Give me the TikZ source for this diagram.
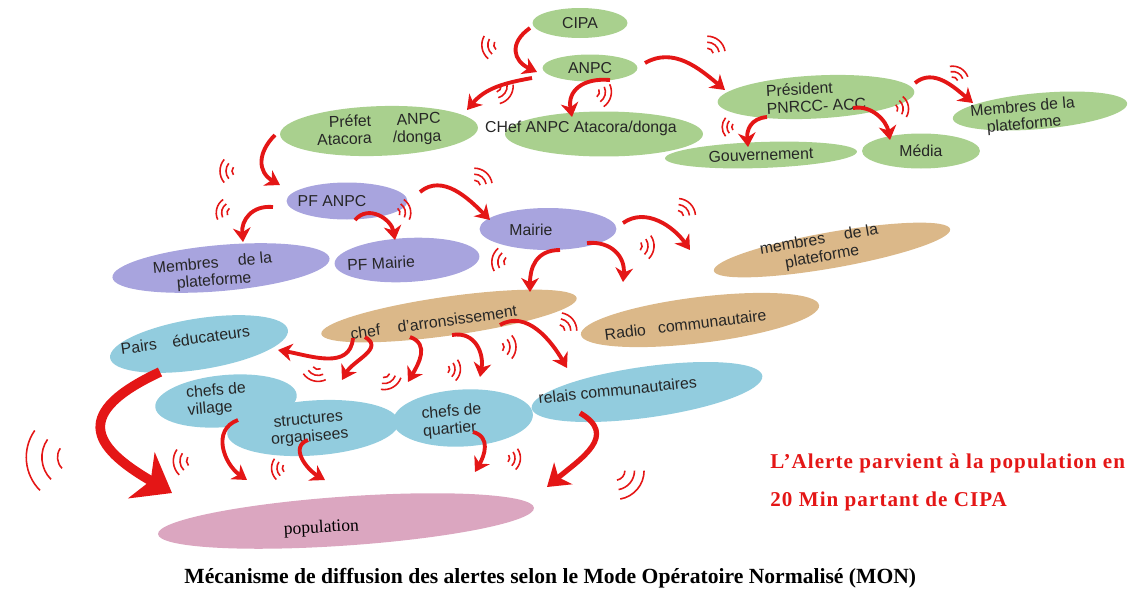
\documentclass[tikz,border=0pt]{standalone}
\usepackage{fontspec}
\setmainfont{Liberation Serif}
\setsansfont{Liberation Sans}
\usetikzlibrary{shapes.geometric,arrows.meta}

\definecolor{vertF}{RGB}{169,208,142}
\definecolor{mauveF}{RGB}{168,164,222}
\definecolor{beigeF}{RGB}{219,184,137}
\definecolor{bleuF}{RGB}{146,204,222}
\definecolor{roseF}{RGB}{219,166,192}
\definecolor{rougeF}{RGB}{228,22,22}

\tikzset{
  bulle/.style={ellipse, inner sep=0pt, text=black!85, align=center,
    font=\sffamily\fontsize{9}{10}\selectfont},
  taille/.style 2 args={minimum width=#1*0.2mm, minimum height=#2*0.2mm},
  txt/.style={fill=none, draw=none},
  fleche/.style={draw=rougeF, line width=2.2pt,
    -{Stealth[length=8pt,width=10pt,inset=2.5pt]}},
  forte/.style={fleche, line width=3pt,
    -{Stealth[length=12pt,width=16pt,inset=3.5pt]}},
  grosse/.style={fleche, line width=5.5pt,
    -{Stealth[length=20pt,width=30pt,inset=6pt]}},
  onde/.style={draw=rougeF, line width=0.9pt},
  ondes/.pic={
    \foreach \r in {6,12,18}
      \draw[onde] (-12,0) ++(-40:\r) arc[start angle=-40, end angle=40, radius=\r];
  },
  alerte/.style={text=rougeF, inner sep=0pt,
    font=\rmfamily\bfseries\fontsize{12}{14}\selectfont\addfontfeature{LetterSpace=5}},
  legende/.style={inner sep=0pt, font=\rmfamily\bfseries\fontsize{12.3}{14}\selectfont}
}

\begin{document}
\begin{tikzpicture}[x=0.02cm, y=0.02cm]
\useasboundingbox (0,0) rectangle (1134,-589);

 % niveau national
 \begin{scope}[every node/.style={bulle, fill=vertF}]
  \node[taille={95}{30}] (cipa) at (580,-23) {CIPA};
  \node[taille={95}{27}] (anpc) at (590,-68) {ANPC};
  \node[taille={198}{43}, rotate=2] (prefet) at (379,-131)
    {\begin{tabular}{@{}r@{\hspace{12pt}}r@{}}Préfet & ANPC\\Atacora & /donga\end{tabular}};
  \node[taille={198}{45}, label={[txt, shift={(-23,6)}]center:CHef ANPC Atacora/donga}]
    (chefanpc) at (604,-134) {};
  \node[taille={197}{43}, rotate=3, align=left] (president) at (816,-97) {Président\\PNRCC- ACC};
  \node[taille={175}{36}, rotate=5, label={[txt, rotate=5, shift={(-17,-4)}]center:Membres de la\\plateforme}]
    (membresA) at (1040,-111) {};
  \node[taille={192}{26}, rotate=2] (gouv) at (761,-155) {Gouvernement};
  \node[taille={118}{35}] (media) at (921,-151) {Média};
 \end{scope}

 % niveau communal
 \begin{scope}[every node/.style={bulle, fill=mauveF}]
  \node[taille={121}{37}, label={[txt, shift={(-15,0)}]center:PF ANPC}] (pfanpc) at (347,-201) {};
  \node[taille={218}{46}, rotate=5, label={[txt, rotate=5, shift={(-8,-4)}]center:Membres\hspace{11pt}de la\\plateforme}]
    (membresB) at (221,-268) {};
  \node[taille={145}{44}, rotate=3, label={[txt, rotate=3, shift={(-26,-2)}]center:PF Mairie}]
    (pfmairie) at (407,-260) {};
  \node[taille={137}{42}, label={[txt, shift={(-17,-1)}]center:Mairie}] (mairie) at (548,-229) {};
 \end{scope}

 \begin{scope}[every node/.style={bulle, fill=beigeF}]
  \node[taille={240}{36}, rotate=10, label={[txt, rotate=10, shift={(-11,3)}]center:membres\hspace{11pt}de la\\plateforme}]
    (membresC) at (832,-250) {};
  \node[taille={240}{46}, rotate=7, label={[txt, rotate=7, shift={(-15,-3)}]center:Radio\hspace{7pt}communautaire}]
    (radio) at (700,-320) {};
  \node[taille={258}{39}, rotate=8, label={[txt, rotate=8, shift={(-16,-4)}]center:chef\hspace{10pt}d'arronsissement}]
    (chefarr) at (449,-316) {};
 \end{scope}

 % niveau local
 \begin{scope}[every node/.style={bulle, fill=bleuF}]
  \node[taille={180}{51}, rotate=9, label={[txt, rotate=8, shift={(-13,6)}]center:Pairs\hspace{9pt}éducateurs}]
    (pairs) at (199,-344) {};
  \node[taille={142}{52}, rotate=5, label={[txt, rotate=5, align=left, shift={(-9,2)}]center:chefs de\\village}]
    (village) at (226,-401) {};
  \node[taille={172}{55}, rotate=4, label={[txt, rotate=5, shift={(-4,-1)}]center:structures\\organisees}]
    (structures) at (313,-428) {};
  \node[taille={140}{57}, rotate=3, label={[txt, rotate=5, align=left, shift={(-11,-2)}]center:chefs de\\quartier}]
    (quartier) at (463,-418) {};
  \node[taille={233}{51}, rotate=8, label={[txt, rotate=6, shift={(-29,5)}]center:relais communautaires}]
    (relais) at (647,-392) {};
 \end{scope}

 \node[bulle, fill=roseF, taille={377}{49}, rotate=4,
   label={[txt, rotate=3, shift={(-25,-6)}]center:population}] (population) at (346,-521) {};

 % fleches
 \path ([shift={(-50,-5)}]cipa.center) edge [fleche, out=215, in=155, looseness=1.5] ([shift={(-53,-4)}]anpc.center);
 \path ([shift={(-58,-10)}]anpc.center) edge [fleche, out=190, in=50] ([shift={(88,21)}]prefet.center);
 \path ([shift={(20,-12)}]anpc.center) edge [fleche, out=175, in=100, looseness=1.3] ([shift={(-32,17)}]chefanpc.center);
 \path ([shift={(55,5)}]anpc.center) edge [fleche, out=30, in=140] ([shift={(-91,7)}]president.center);
 \path ([shift={(99,14)}]president.center) edge [fleche, out=40, in=140] ([shift={(-67,8)}]membresA.center);
 \path ([shift={(-49,-20)}]president.center) edge [fleche, out=185, in=95, looseness=1.2] ([shift={(-13,8)}]gouv.center);
 \path ([shift={(37,-11)}]president.center) edge [fleche, out=10, in=100] ([shift={(-31,11)}]media.center);
 \path ([shift={(-104,-4)}]prefet.center) edge [fleche, out=225, in=150, looseness=1.3] ([shift={(-67,16)}]pfanpc.center);
 \path ([shift={(-74,-6)}]pfanpc.center) edge [fleche, out=175, in=95, looseness=1.2] ([shift={(22,26)}]membresB.center);
 \path ([shift={(8,-19)}]pfanpc.center) edge [fleche, out=50, in=100, looseness=1.2] ([shift={(-12,20)}]pfmairie.center);
 \path ([shift={(73,9)}]pfanpc.center) edge [fleche, out=40, in=135] ([shift={(-58,9)}]mairie.center);
 \path ([shift={(12,-21)}]mairie.center) edge [fleche, out=180, in=90, looseness=1.2] ([shift={(81,24)}]chefarr.center);
 \path ([shift={(39,-14)}]mairie.center) edge [fleche, out=5, in=85, looseness=1.2] ([shift={(-77,38)}]radio.center);
 \path ([shift={(75,6)}]mairie.center) edge [fleche, out=35, in=125] ([shift={(-142,0)}]membresC.center);
 \path ([shift={(-96,-22)}]chefarr.center) edge [fleche, out=265, in=350, looseness=1.1] ([shift={(79,-6)}]pairs.center);
 \path ([shift={(-84,-21)}]chefarr.center) edge [fleche, out=-30, in=60, looseness=1.2] ([shift={(116,21)}]village.center);
 \path ([shift={(-39,-21)}]chefarr.center) edge [fleche, out=-20, in=60, looseness=1.2] ([shift={(95,46)}]structures.center);
 \path ([shift={(3,-19)}]chefarr.center) edge [fleche, out=10, in=80, looseness=1.2] ([shift={(17,41)}]quartier.center);
 \path ([shift={(51,-9)}]chefarr.center) edge [fleche, out=30, in=120] ([shift={(-80,24)}]relais.center);
 \path ([shift={(-39,-28)}]pairs.center) edge [grosse, out=205, in=150, looseness=2] ([shift={(-174,28)}]population.center);
 \path ([shift={(12,-19)}]village.center) edge [fleche, out=200, in=145, looseness=1.2] ([shift={(-99,41)}]population.center);
 \path ([shift={(-5,-12)}]structures.center) edge [fleche, out=200, in=150, looseness=1.2] ([shift={(-21,41)}]population.center);
 \path ([shift={(10,-14)}]quartier.center) edge [fleche, out=-15, in=60, looseness=1.2] ([shift={(129,49)}]population.center);
 \path ([shift={(-67,-21)}]relais.center) edge [forte, out=-30, in=40, looseness=1.4] ([shift={(201,34)}]population.center);

 % ondes
 \pic[rotate=190] at (488,-47) {ondes};
 \pic[rotate=-35] at (505,-93) {ondes};
 \pic[rotate=-15] at (605,-95) {ondes};
 \pic[rotate=50] at (715,-45) {ondes};
 \pic[rotate=60, scale=0.9] at (958,-73) {ondes};
 \pic[rotate=10, scale=0.9] at (903,-107) {ondes};
 \pic[rotate=180, scale=0.8] at (727,-127) {ondes};
 \pic[rotate=180] at (226,-171) {ondes};
 \pic[rotate=50] at (482,-177) {ondes};
 \pic[rotate=15, scale=0.9] at (405,-210) {ondes};
 \pic[rotate=165, scale=0.9] at (222,-210) {ondes};
 \pic[rotate=170] at (498,-260) {ondes};
 \pic[rotate=-5] at (648,-247) {ondes};
 \pic[rotate=45] at (686,-208) {ondes};
 \pic[rotate=255] at (315,-375) {ondes};
 \pic[rotate=-60] at (390,-382) {ondes};
 \pic[rotate=-5, scale=0.9] at (455,-370) {ondes};
 \pic[rotate=0] at (510,-347) {ondes};
 \pic[rotate=40] at (568,-323) {ondes};
 \pic[rotate=185, scale=2.6] at (42,-460) {ondes};
 \pic[rotate=185, scale=1.1] at (180,-462) {ondes};
 \pic[rotate=185, scale=0.9] at (277,-469) {ondes};
 \pic[rotate=-5, scale=0.9] at (515,-459) {ondes};
 \pic[rotate=-40, scale=1.6] at (630,-483) {ondes};

 % textes
 \node[alerte, anchor=base west] (msg1) at (770,-468) {L’Alerte parvient à la population en};
 \node[alerte, anchor=base west] (msg2) at (770,-506) {20 Min partant de CIPA};
 \node[legende, anchor=base west] (titre) at (184,-583)
   {Mécanisme de diffusion des alertes selon le Mode Opératoire Normalisé (MON)};
\end{tikzpicture}
\end{document}
